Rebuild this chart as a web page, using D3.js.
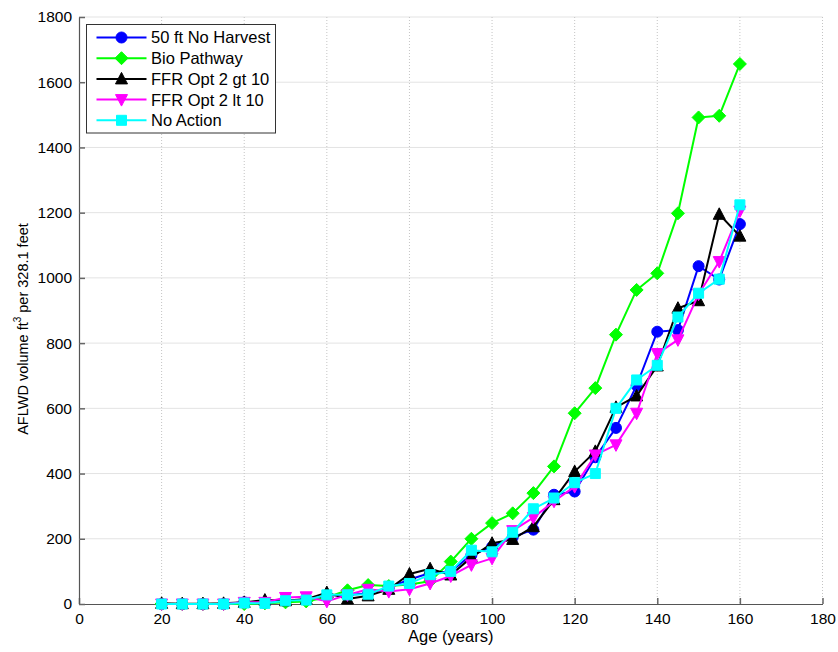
<!DOCTYPE html>
<html>
<head>
<meta charset="utf-8">
<script src="https://cdn.jsdelivr.net/npm/d3@7"></script>
<style>
  html, body { margin: 0; padding: 0; background: #fff; }
  svg { display: block; font-family: "Liberation Sans", Arial, sans-serif; }
</style>
</head>
<body>
<svg id="chart" width="838" height="652"></svg>
<script>
// Stand age (years) at each sample
const ages = [20, 25, 30, 35, 40, 45, 50, 55, 60, 65, 70, 75, 80, 85, 90, 95, 100,
              105, 110, 115, 120, 125, 130, 135, 140, 145, 150, 155, 160];

// AFLWD volume per 328.1 ft, by scenario
const noHarvest50 = [0, 0, 0, 0, 5, 3, 8, 12, 25, 28, 32, 50, 75, 95, 100, 150, 175,
                     205, 228, 335, 345, 450, 540, 670, 835, 840, 1036, 995, 1165];
const bioPathway  = [0, 0, 0, 0, 0, 2, 5, 8, 20, 42, 58, 55, 60, 70, 130, 200, 248,
                     278, 340, 422, 585, 662, 826, 963, 1014, 1198, 1492, 1497, 1656];
const ffrGt10     = [2, 1, 1, 2, 5, 12, 10, 15, 35, 15, 25, 45, 92, 108, 89, 143, 186,
                     198, 237, 320, 406, 468, 603, 638, 730, 907, 930, 1195, 1128];
const ffrLt10     = [0, 0, 0, 0, 5, 5, 20, 22, 8, 28, 45, 38, 45, 63, 86, 120, 140,
                     225, 265, 315, 360, 457, 488, 585, 768, 810, 950, 1050, 1205];
const noAction    = [0, 0, 0, 0, 3, 2, 10, 12, 28, 28, 30, 55, 63, 90, 100, 165, 160,
                     220, 292, 325, 372, 400, 600, 687, 732, 880, 953, 996, 1224];

const seriesNames = ["50 ft No Harvest", "Bio Pathway", "FFR Opt 2 gt 10", "FFR Opt 2 lt 10", "No Action"];
const seriesValues = [noHarvest50, bioPathway, ffrGt10, ffrLt10, noAction];
const seriesColors = ["#0000ff", "#00ff00", "#000000", "#ff00ff", "#00ffff"];
const seriesMarkers = ["circle", "diamond", "triUp", "triDown", "square"];

const xTicks = [0, 20, 40, 60, 80, 100, 120, 140, 160, 180];
const yTicks = [0, 200, 400, 600, 800, 1000, 1200, 1400, 1600, 1800];

const svg = d3.select("#chart");
const plotLeft = 79, plotRight = 822.5, plotTop = 17, plotBottom = 604;

const x = d3.scaleLinear().domain([0, 180]).range([plotLeft, plotRight]);
const y = d3.scaleLinear().domain([0, 1800]).range([plotBottom, plotTop]);

// Grid: solid horizontal, dotted vertical
svg.append("g").selectAll("line").data(yTicks.slice(1)).join("line")
  .attr("x1", plotLeft).attr("x2", plotRight)
  .attr("y1", d => y(d)).attr("y2", d => y(d))
  .attr("stroke", "#e3e3e3").attr("stroke-width", 1);
svg.append("g").selectAll("line").data(xTicks.slice(1)).join("line")
  .attr("x1", d => x(d)).attr("x2", d => x(d))
  .attr("y1", plotTop).attr("y2", plotBottom)
  .attr("stroke", "#c4c4c4").attr("stroke-width", 1)
  .attr("stroke-dasharray", "1,2");

// Axes with inward ticks
const fmt = d3.format("d");
const xAxis = svg.append("g").attr("transform", `translate(0,${plotBottom})`)
  .call(d3.axisBottom(x).tickValues(xTicks).tickFormat(fmt)
    .tickSizeInner(-6).tickSizeOuter(0).tickPadding(9));
const yAxis = svg.append("g").attr("transform", `translate(${plotLeft},0)`)
  .call(d3.axisLeft(y).tickValues(yTicks).tickFormat(fmt)
    .tickSizeInner(-6).tickSizeOuter(0).tickPadding(9));
[xAxis, yAxis].forEach(g => {
  g.select(".domain").attr("stroke", "#555").attr("stroke-width", 1.2);
  g.selectAll(".tick line").attr("stroke", "#666").attr("stroke-width", 1.5);
  g.selectAll(".tick text").attr("fill", "#000").attr("font-size", 15.5)
    .attr("font-family", "'Liberation Sans', Arial, sans-serif");
});
yAxis.selectAll(".tick text").attr("dx", 2);

// Marker shapes
function markerPath(kind) {
  switch (kind) {
    case "circle":  return "M0,-5.5A5.5,5.5 0 1,1 0,5.5A5.5,5.5 0 1,1 0,-5.5Z";
    case "diamond": return "M0,-6.5L6.5,0L0,6.5L-6.5,0Z";
    case "triUp":   return "M0,-6.5L6,5L-6,5Z";
    case "triDown": return "M0,6.5L6,-5L-6,-5Z";
    case "square":  return "M-5,-5L5,-5L5,5L-5,5Z";
  }
}

const line = d3.line().x((d, i) => x(ages[i])).y(d => y(d));

seriesValues.forEach((vals, k) => {
  const g = svg.append("g");
  g.append("path").datum(vals)
    .attr("d", line)
    .attr("fill", "none")
    .attr("stroke", seriesColors[k])
    .attr("stroke-width", 2)
    .attr("stroke-linejoin", "round");
  g.selectAll("path.mk").data(vals).join("path")
    .attr("class", "mk")
    .attr("d", markerPath(seriesMarkers[k]))
    .attr("transform", (d, i) => `translate(${x(ages[i])},${y(d)})`)
    .attr("fill", seriesColors[k])
    .attr("stroke", seriesColors[k])
    .attr("stroke-width", 1);
});

// Legend
const lg = svg.append("g");
lg.append("rect").attr("x", 86.5).attr("y", 24.5).attr("width", 189).attr("height", 108.5)
  .attr("fill", "#fff").attr("stroke", "#333").attr("stroke-width", 1);
seriesNames.forEach((name, k) => {
  const cy = 37.5 + k * 20.7;
  lg.append("line").attr("x1", 96.5).attr("x2", 146.5).attr("y1", cy).attr("y2", cy)
    .attr("stroke", seriesColors[k]).attr("stroke-width", 2);
  lg.append("path").attr("d", markerPath(seriesMarkers[k]))
    .attr("transform", `translate(121.5,${cy})`)
    .attr("fill", seriesColors[k]).attr("stroke", seriesColors[k]);
  lg.append("text").attr("x", 151).attr("y", cy).attr("dy", "0.36em")
    .attr("font-size", 16.5).attr("fill", "#000").text(name);
});

// Axis titles
svg.append("text").attr("x", (plotLeft + plotRight) / 2).attr("y", 642)
  .attr("text-anchor", "middle").attr("font-size", 16.5).text("Age (years)");

const yl = svg.append("text")
  .attr("transform", "translate(28,329) rotate(-90)")
  .attr("text-anchor", "middle").attr("font-size", 14.5);
yl.append("tspan").text("AFLWD volume ft");
yl.append("tspan").attr("font-size", 10).attr("dy", -7).text("3");
yl.append("tspan").attr("dy", 7).text(" per 328.1 feet");
</script>
</body>
</html>
